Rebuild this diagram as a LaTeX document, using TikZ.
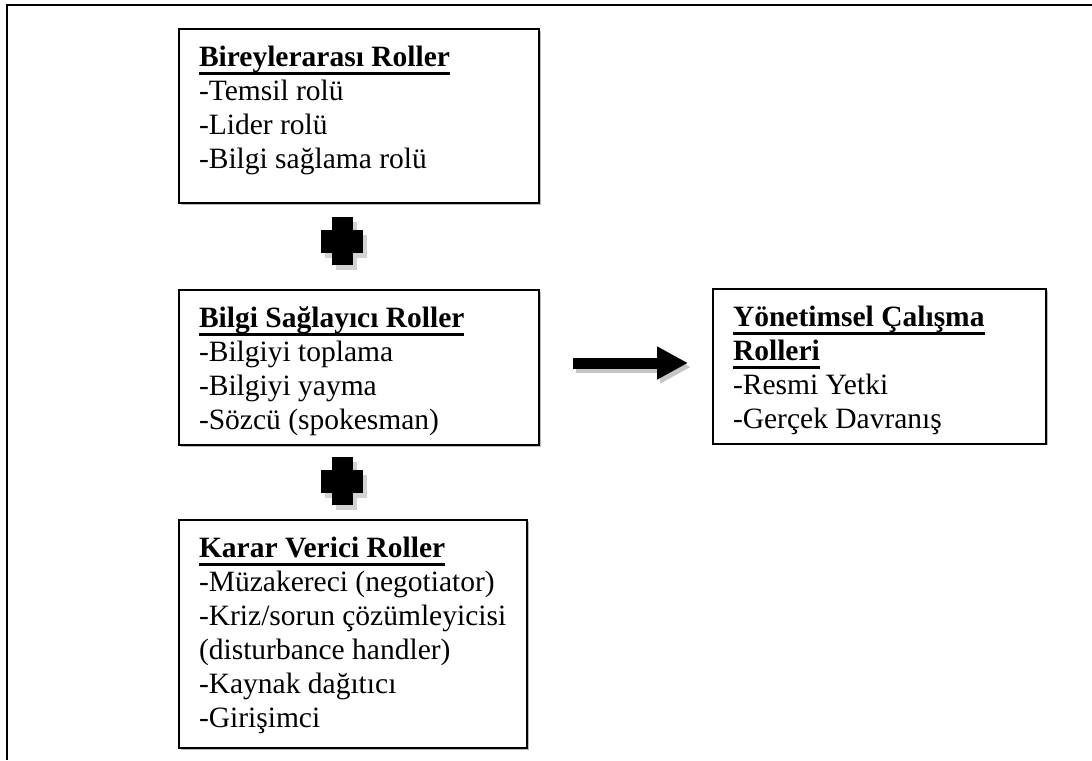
\documentclass[tikz,border=0pt]{standalone}
\usepackage{fontspec}
\setmainfont{Liberation Serif}
\usetikzlibrary{arrows.meta,shadows}

\newcommand{\rolbaslik}[1]{{\setbox0\hbox{\textbf{#1}}\rlap{\copy0}\rule[-3.4pt]{\wd0}{1.1pt}}}
\newcommand{\rolmetin}[3]{\parbox[c][#2][t]{#1}{\strut #3}}

\tikzset{
  rolkutu/.style={draw, fill=white, line width=0.8pt, anchor=north west, inner xsep=8pt, inner ysep=5.4pt,
    drop shadow={shadow xshift=0.7pt, shadow yshift=-0.7pt, fill=gray!55, opacity=1}},
  okok/.style={line width=4.4pt, -{Triangle[length=12.4pt,width=12.4pt]}, shorten <=13.2pt, shorten >=9.6pt}
}

\begin{document}
\begin{tikzpicture}[x=0.4pt,y=-0.4pt,font=\fontsize{11.8}{13.6}\selectfont]
    \useasboundingbox (0,0) rectangle (1092,760);
    \draw [line width=0.8pt] (1092,5) -- (7,5) -- (7,760);

    \node[rolkutu] (bireyler) at (178,28) {\rolmetin{128pt}{58.8pt}{%
      \rolbaslik{Bireylerarası Roller}\\
      -Temsil rolü\\
      -Lider rolü\\
      -Bilgi sağlama rolü}};
    \node[rolkutu] (bilgi) at (178,289) {\rolmetin{128pt}{51.2pt}{%
      \rolbaslik{Bilgi Sağlayıcı Roller}\\
      -Bilgiyi toplama\\
      -Bilgiyi yayma\\
      -Sözcü (spokesman)}};
    \node[rolkutu] (karar) at (178,519) {\rolmetin{123.2pt}{80.4pt}{%
      \rolbaslik{Karar Verici Roller}\\
      -Müzakereci (negotiator)\\
      -Kriz/sorun çözümleyicisi\\
      (disturbance handler)\\
      -Kaynak dağıtıcı\\
      -Girişimci}};
    \node[rolkutu] (yonetim) at (712,288) {\rolmetin{117.2pt}{51pt}{%
      \rolbaslik{Yönetimsel Çalışma}\\
      \rolbaslik{Rolleri}\\
      -Resmi Yetki\\
      -Gerçek Davranış}};

    % arti isaretleri
    \foreach \py in {241,481}{
      \begin{scope}[shift={(342,\py)}]
        \fill[gray!35] (-6.5,-19) rectangle (14.5,29);
        \fill[gray!35] (-17,-6.5) rectangle (25,16.5);
        \fill[black] (-10.5,-24) rectangle (10.5,24);
        \fill[black] (-21,-11.5) rectangle (21,11.5);
      \end{scope}
    }

    \draw [okok, gray!45, transform canvas={xshift=1.2pt,yshift=-1.6pt}]
      ([yshift=1.8pt]bilgi.east) -- ([yshift=1.8pt]bilgi.east -| yonetim.west);
    \draw [okok] ([yshift=1.8pt]bilgi.east) -- ([yshift=1.8pt]bilgi.east -| yonetim.west);
\end{tikzpicture}
\end{document}
